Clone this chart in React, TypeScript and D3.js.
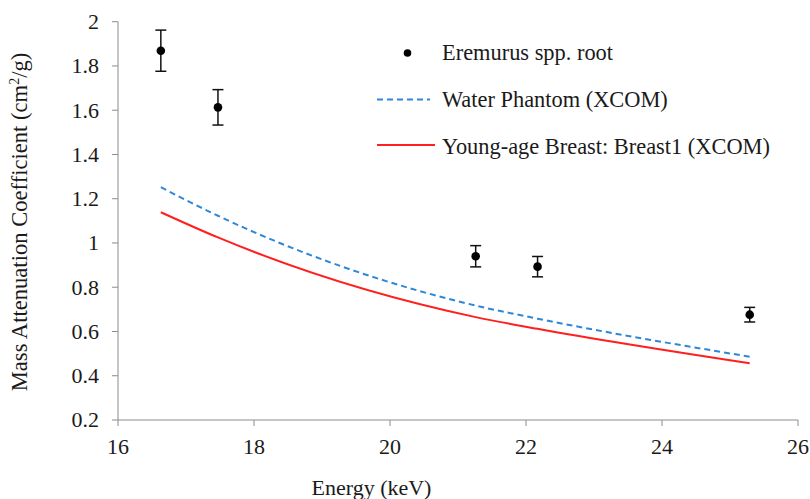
import React from "react";
import * as d3 from "d3";

const energies = [16.63, 17.47, 21.26, 22.17, 25.29];
const measured = [1.869, 1.613, 0.94, 0.893, 0.676];
const errors = [0.093, 0.08, 0.048, 0.046, 0.033];
const water = [1.252, 1.123, 0.717, 0.658, 0.486];
const breast = [1.139, 1.025, 0.665, 0.612, 0.456];
const xTicks = [16, 18, 20, 22, 24, 26];
const yTicks = [0.2, 0.4, 0.6, 0.8, 1, 1.2, 1.4, 1.6, 1.8, 2];
const legendLabels = ["Eremurus spp. root", "Water Phantom (XCOM)", "Young-age Breast: Breast1 (XCOM)"];

const W = 810, H = 499;
const left = 118, right = 798, top = 21.7, bottom = 420;
const font = '"Liberation Serif", "Times New Roman", serif';
const ts: React.CSSProperties = { fontFamily: font, fontSize: 22, fill: "#1a1a1a" };
const ls: React.CSSProperties = { ...ts, fontSize: 22.4 };

export default function App() {
  const x = d3.scaleLinear().domain([16, 26]).range([left, right]);
  const y = d3.scaleLinear().domain([0.2, 2]).range([bottom, top]);
  const line = d3.line<number>().x((_, i) => x(energies[i])).y((d) => y(d)).curve(d3.curveMonotoneX);
  const axisColor = "#8c8c8c";

  return (
    <svg width={W} height={H} style={{ position: "absolute", left: 0, top: 0, background: "#fff" }}>
      {/* axes */}
      <line x1={left} x2={left} y1={y(2)} y2={bottom} stroke={axisColor} strokeWidth={1} />
      <line x1={left} x2={right} y1={bottom} y2={bottom} stroke={axisColor} strokeWidth={1} />
      {yTicks.map((t) => (
        <g key={"y" + t}>
          <line x1={left - 6} x2={left} y1={y(t)} y2={y(t)} stroke={axisColor} />
          <text x={left - 19} y={y(t)} dy="0.34em" textAnchor="end" style={ts}>
            {d3.format("~g")(t)}
          </text>
        </g>
      ))}
      {xTicks.map((t) => (
        <g key={"x" + t}>
          <line x1={x(t)} x2={x(t)} y1={bottom} y2={bottom + 6} stroke={axisColor} />
          <text x={x(t)} y={454} textAnchor="middle" style={ts}>
            {t}
          </text>
        </g>
      ))}
      {/* axis titles */}
      <text x={311.5} y={495} textAnchor="start" style={ts}>
        Energy (keV)
      </text>
      <text transform={`translate(27,222) rotate(-90)`} textAnchor="middle" style={{ ...ts, fontSize: 22.6 }}>
        Mass Attenuation Coefficient (cm<tspan dy={-8} style={{ fontSize: 14 }}>2</tspan><tspan dy={8}>/g)</tspan>
      </text>
      {/* lines */}
      <path d={line(water) || ""} fill="none" stroke="#2f87d8" strokeWidth={2} strokeDasharray="6,4" />
      <path d={line(breast) || ""} fill="none" stroke="#ff1f1f" strokeWidth={2} />
      {/* points with error bars */}
      {measured.map((v, i) => {
        const cx = x(energies[i]);
        const y1 = y(v + errors[i]);
        const y2 = y(v - errors[i]);
        return (
          <g key={"p" + i}>
            <line x1={cx} x2={cx} y1={y1} y2={y2} stroke="#111" strokeWidth={1.5} />
            <line x1={cx - 5.5} x2={cx + 5.5} y1={y1} y2={y1} stroke="#111" strokeWidth={1.5} />
            <line x1={cx - 5.5} x2={cx + 5.5} y1={y2} y2={y2} stroke="#111" strokeWidth={1.5} />
            <circle cx={cx} cy={y(v)} r={4.3} fill="#000" />
          </g>
        );
      })}
      {/* legend */}
      <circle cx={407.5} cy={53} r={3.8} fill="#000" />
      <text x={442} y={60} style={ls}>{legendLabels[0]}</text>
      <line x1={377} x2={430} y1={99.5} y2={99.5} stroke="#2f87d8" strokeWidth={2} strokeDasharray="6,4" />
      <text x={442} y={107} style={ls}>{legendLabels[1]}</text>
      <line x1={377} x2={435} y1={145} y2={145} stroke="#ff1f1f" strokeWidth={2} />
      <text x={442} y={154} style={ls}>{legendLabels[2]}</text>
    </svg>
  );
}
